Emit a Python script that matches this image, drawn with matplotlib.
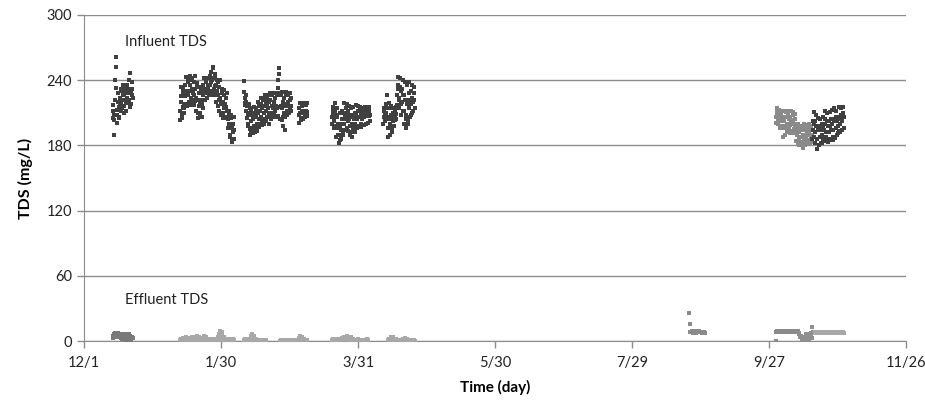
import numpy as np
import matplotlib
matplotlib.use("Agg")
import matplotlib.pyplot as plt

# x axis: days after 12/1, ticks every 60 days
tick_days = [0, 60, 120, 180, 240, 300, 360]
tick_labels = ["12/1", "1/30", "3/31", "5/30", "7/29", "9/27", "11/26"]
y_ticks = [0, 60, 120, 180, 240, 300]

# Influent TDS (mg/L), one row per day, readings every 4 hours
inf_a_start = 12.5
inf_a = [
    [205, 212, 217, 208, 190, 203],
    [222, 240, 252, 261, 233, 213],
    [201, 208, 220, 228, 215, 205],
    [206, 216, 224, 232, 218, 212],
    [214, 222, 230, 236, 226, 210],
    [216, 226, 234, 230, 222, 220],
    [212, 224, 231, 236, 228, 219],
    [222, 232, 240, 247, 229, 215],
    [218, 229, 238, 232, 226, 224],
]

inf_b_start = 42
inf_b = [
    [203, 212, 225, 234, 220, 208],
    [205, 215, 228, 232, 218, 210],
    [214, 225, 236, 243, 230, 218],
    [216, 228, 240, 238, 226, 220],
    [218, 230, 244, 236, 224, 217],
    [220, 232, 242, 240, 228, 222],
    [217, 226, 238, 244, 232, 221],
    [212, 224, 235, 237, 222, 210],
    [205, 216, 228, 234, 220, 208],
    [210, 222, 232, 230, 218, 206],
    [214, 226, 236, 242, 232, 222],
    [222, 230, 240, 238, 228, 224],
    [224, 232, 242, 236, 230, 226],
    [226, 236, 244, 248, 238, 230],
    [228, 240, 251, 252, 242, 232],
    [226, 235, 246, 244, 236, 229],
    [220, 230, 240, 238, 226, 216],
    [212, 222, 234, 240, 224, 210],
    [208, 218, 228, 232, 220, 210],
    [205, 214, 226, 231, 218, 206],
    [206, 215, 224, 228, 212, 205],
    [196, 204, 212, 208, 200, 190],
    [188, 196, 205, 208, 198, 185],
    [183, 192, 200, 206, 194, 186],
]

inf_c_start = 70
inf_c = [
    [239, 229, 224, 219, 217, 226],
    [212, 220, 216, 205, 198, 208],
    [200, 210, 218, 214, 195, 190],
    [192, 202, 212, 208, 196, 191],
    [194, 204, 215, 210, 198, 192],
    [196, 206, 214, 212, 200, 193],
    [198, 210, 220, 216, 204, 197],
    [200, 212, 224, 218, 206, 199],
    [202, 214, 222, 224, 210, 200],
    [204, 216, 226, 220, 212, 202],
    [206, 218, 224, 226, 214, 200],
    [208, 220, 228, 222, 210, 204],
    [206, 216, 226, 228, 214, 207],
    [210, 220, 228, 224, 212, 206],
    [206, 216, 226, 228, 214, 207],
    [233, 240, 251, 246, 228, 215],
    [204, 216, 226, 229, 214, 203],
    [198, 206, 220, 224, 210, 194],
    [206, 216, 226, 229, 218, 208],
    [212, 220, 228, 226, 216, 210],
    [214, 222, 228, 224, 216, 212],
]

inf_c2_start = 94
inf_c2 = [
    [201, 208, 214, 219, 210, 204],
    [203, 210, 216, 218, 212, 205],
    [204, 212, 218, 219, 210, 206],
    [206, 212, 217, 219, 211, 207],
]

inf_d_start = 108.5
inf_d = [
    [200, 206, 212, 215, 208, 202],
    [196, 204, 212, 219, 208, 198],
    [188, 196, 206, 214, 200, 190],
    [182, 190, 200, 210, 196, 185],
    [186, 194, 204, 212, 200, 190],
    [192, 200, 210, 219, 206, 194],
    [194, 204, 214, 218, 208, 196],
    [193, 202, 212, 216, 204, 192],
    [190, 198, 208, 214, 200, 188],
    [188, 196, 206, 215, 204, 192],
    [192, 200, 210, 217, 208, 196],
    [196, 204, 212, 216, 206, 198],
    [198, 206, 212, 215, 208, 200],
    [197, 204, 210, 214, 206, 199],
    [199, 206, 212, 215, 208, 200],
    [200, 207, 213, 214, 209, 201],
    [201, 207, 212, 215, 208, 202],
]

inf_e_start = 131
inf_e = [
    [200, 206, 212, 214, 208, 202],
    [202, 210, 218, 226, 214, 204],
    [188, 196, 206, 214, 219, 200],
    [190, 198, 208, 216, 204, 192],
    [196, 202, 210, 214, 206, 198],
    [203, 208, 212, 215, 209, 204],
    [217, 226, 236, 243, 232, 222],
    [214, 224, 234, 242, 230, 218],
    [208, 220, 232, 240, 226, 212],
    [200, 212, 226, 238, 222, 204],
    [196, 208, 222, 236, 218, 200],
    [202, 214, 228, 238, 222, 206],
    [208, 218, 230, 236, 224, 210],
    [212, 220, 228, 234, 222, 214],
]

inf_f_start = 303
inf_f = [
    [201, 206, 212, 214, 208, 203],
    [200, 206, 211, 213, 207, 202],
    [196, 204, 210, 212, 206, 198],
    [188, 196, 204, 212, 202, 190],
    [190, 198, 206, 211, 200, 192],
    [194, 200, 208, 212, 204, 196],
    [191, 199, 206, 212, 203, 193],
    [193, 200, 208, 211, 202, 195],
    [191, 198, 204, 209, 200, 192],
    [184, 190, 196, 200, 192, 182],
    [180, 186, 192, 196, 188, 181],
    [182, 188, 194, 198, 190, 183],
    [178, 186, 194, 200, 190, 180],
    [182, 188, 196, 199, 192, 184],
    [184, 190, 196, 200, 192, 185],
    [182, 188, 194, 198, 190, 183],
]

inf_g_start = 319
inf_g = [
    [186, 194, 202, 211, 200, 188],
    [182, 192, 202, 208, 198, 186],
    [177, 186, 196, 205, 194, 180],
    [180, 188, 198, 204, 194, 182],
    [182, 190, 200, 206, 196, 184],
    [186, 194, 204, 212, 200, 188],
    [184, 192, 202, 210, 198, 186],
    [183, 192, 202, 211, 198, 185],
    [186, 194, 204, 213, 200, 188],
    [185, 194, 204, 214, 202, 187],
    [188, 196, 206, 212, 202, 190],
    [191, 198, 206, 215, 204, 193],
    [192, 200, 208, 214, 204, 194],
    [194, 202, 210, 215, 206, 196],
]

# Effluent TDS (mg/L), one row per day, readings every 6 hours
eff_a_start = 12.5
eff_a = [
    [3, 5, 6, 4], [6, 7, 5, 4], [5, 6, 7, 5], [4, 6, 5, 3], [2, 5, 6, 4],
    [5, 6, 4, 2], [1, 3, 5, 4], [4, 6, 5, 2], [1, 2, 4, 3],
]

eff_b_start = 42
eff_b = [
    [0, 1, 2, 1], [1, 2, 3, 1], [0, 1, 4, 2], [1, 2, 1, 0], [0, 2, 3, 1],
    [1, 4, 2, 0], [0, 1, 2, 1], [2, 4, 5, 3], [1, 2, 4, 1], [0, 1, 3, 2],
    [1, 3, 5, 2], [0, 2, 4, 1], [1, 2, 1, 0], [0, 1, 2, 1], [0, 1, 1, 0],
    [1, 2, 1, 0], [0, 2, 4, 1], [2, 6, 9, 4], [1, 5, 8, 2], [0, 2, 4, 1],
    [1, 2, 1, 0], [0, 1, 2, 1], [0, 1, 1, 0], [1, 2, 1, 0],
]

eff_c_start = 70
eff_c = [
    [0, 1, 2, 1], [0, 1, 1, 0], [1, 2, 1, 0], [2, 5, 6, 3], [1, 4, 5, 2],
    [0, 1, 2, 1], [0, 1, 1, 0], [0, 0, 1, 0], [0, 1, 0, 0], [0, 1, 1, 0],
]

eff_c2_start = 86
eff_c2 = [
    [0, 1, 0, 0], [0, 0, 1, 0], [0, 1, 1, 0], [0, 0, 1, 0], [0, 1, 0, 0],
    [0, 0, 0, 1], [0, 1, 1, 0], [0, 0, 1, 0], [1, 3, 5, 2], [0, 2, 4, 1],
    [0, 1, 2, 1], [0, 1, 1, 0],
]

eff_d_start = 108.5
eff_d = [
    [0, 1, 2, 1], [1, 2, 1, 0], [0, 1, 2, 1], [0, 1, 1, 0], [1, 2, 3, 1],
    [1, 3, 4, 2], [2, 4, 5, 3], [1, 3, 4, 2], [1, 2, 4, 1], [0, 1, 2, 1],
    [0, 1, 1, 0], [0, 1, 2, 0], [0, 1, 1, 0], [0, 0, 1, 0], [0, 1, 1, 0],
    [0, 1, 2, 1],
]

eff_e_start = 133
eff_e = [
    [0, 1, 2, 1], [1, 2, 4, 2], [1, 3, 4, 1], [0, 1, 2, 1], [0, 1, 1, 0],
    [0, 0, 1, 0], [0, 1, 2, 1], [1, 2, 3, 1], [0, 1, 2, 0], [0, 1, 1, 0],
    [0, 0, 1, 0], [0, 1, 1, 0],
]

eff_f_start = 265
eff_f = [
    [26, 16, 8, 8], [8, 9, 8, 7], [8, 8, 9, 8], [7, 8, 8, 9], [8, 9, 8, 8],
    [8, 8, 7, 8], [7, 8, 8, 7],
]

eff_g_start = 303
eff_g = [
    [0, 8, 9, 8], [8, 9, 9, 8], [9, 8, 8, 9], [8, 9, 9, 8], [9, 9, 8, 8],
    [8, 9, 9, 8], [8, 8, 9, 9], [9, 8, 8, 8], [8, 9, 8, 8], [8, 8, 9, 8],
]

eff_h_start = 313
eff_h = [
    [7, 6, 4, 5], [5, 3, 2, 4], [2, 0, 1, 3], [4, 6, 5, 2], [1, 0, 2, 5],
    [6, 7, 5, 3], [13, 8, 7, 8],
]

eff_i_start = 320
eff_i = [
    [8, 7, 8, 8], [7, 8, 8, 7], [8, 8, 7, 8], [7, 7, 8, 8], [8, 7, 7, 8],
    [8, 8, 7, 7], [7, 8, 8, 8], [8, 7, 8, 7], [7, 8, 7, 8], [8, 8, 8, 7],
    [7, 8, 7, 7], [8, 7, 8, 8], [7, 8, 8, 7],
]


def series(start, rows):
    vals = np.array(rows, dtype=float)
    per_day = vals.shape[1]
    t = start + np.arange(vals.size) / per_day
    return t, vals.ravel()


dark = "#404040"
mid = "#8a8a8a"
light = "#a8a8a8"

plt.rcParams["font.family"] = ["Lato", "DejaVu Sans"]

fig = plt.figure(figsize=(9.25, 4.03), dpi=100)
ax = fig.add_axes([0.0908, 0.1538, 0.8887, 0.809])

for start, rows, col in [
    (inf_a_start, inf_a, dark), (inf_b_start, inf_b, dark),
    (inf_c_start, inf_c, dark), (inf_c2_start, inf_c2, dark),
    (inf_d_start, inf_d, dark), (inf_e_start, inf_e, dark),
    (inf_f_start, inf_f, mid), (inf_g_start, inf_g, dark),
    (eff_a_start, eff_a, "#7a7a7a"), (eff_b_start, eff_b, light),
    (eff_c_start, eff_c, light), (eff_c2_start, eff_c2, light),
    (eff_d_start, eff_d, light), (eff_e_start, eff_e, light),
    (eff_f_start, eff_f, mid), (eff_g_start, eff_g, mid),
    (eff_h_start, eff_h, "#8f8f8f"), (eff_i_start, eff_i, light),
]:
    t, v = series(start, rows)
    ax.plot(t, v, linestyle="none", marker="s", markersize=3.2,
            markeredgewidth=0, color=col, zorder=3)

ax.set_xlim(0, 360)
ax.set_ylim(0, 300)
ax.set_xticks(tick_days)
ax.set_xticklabels(tick_labels)
ax.set_yticks(y_ticks)
ax.grid(axis="y", color="#8c8c8c", linewidth=1.0)
ax.set_axisbelow(True)
for s in ["top", "right"]:
    ax.spines[s].set_visible(False)
for s in ["left", "bottom"]:
    ax.spines[s].set_color("#8c8c8c")
ax.tick_params(axis="both", colors="#8c8c8c", labelcolor="#222222",
               labelsize=10.5, length=5, width=1)
ax.tick_params(axis="x", pad=6)

ax.set_xlabel("Time (day)", fontsize=11, fontweight="bold", labelpad=7)
ax.set_ylabel("TDS (mg/L)", fontsize=11.5, fontweight="bold", labelpad=10)

ax.text(18, 275, "Influent TDS", fontsize=10.5, color="#222222", va="center")
ax.text(18, 38, "Effluent TDS", fontsize=10.5, color="#222222", va="center")

fig.savefig("out.png", dpi=100)
